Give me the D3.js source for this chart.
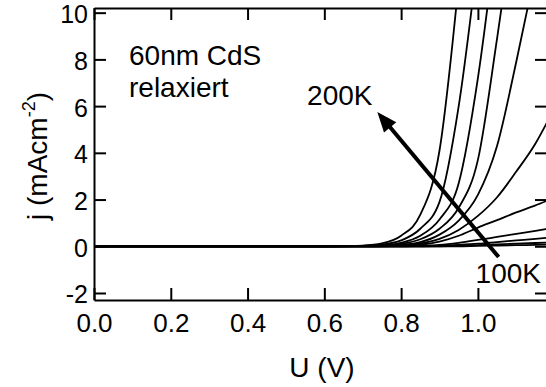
<!DOCTYPE html>
<html><head><meta charset="utf-8">
<script src="https://cdn.jsdelivr.net/npm/d3@7"></script>
<style>body{margin:0;background:#fff}svg{display:block}text{font-family:"Liberation Sans",Arial,sans-serif;fill:#000}</style>
</head><body>
<svg id="c" width="546" height="387"></svg>
<script>
// Voltage grid (V)
const voltages = [0, 0.5, 0.6, 0.65, 0.7, 0.75, 0.8, 0.85, 0.9, 0.95, 1.0, 1.05, 1.1, 1.15, 1.18];
// Current density j (mA/cm^2), one array per temperature
const j200K = [0, 0, 0.002, 0.01, 0.03, 0.12, 0.45, 1.35, 4.1, 11.3, null, null, null, null, null];
const j190K = [0, 0, 0.001, 0.005, 0.02, 0.07, 0.25, 0.75, 1.9, 6.0, 12.4, null, null, null, null];
const j180K = [0, 0, 0, 0.003, 0.015, 0.05, 0.15, 0.45, 1.15, 2.7, 7.2, 13.6, null, null, null];
const j170K = [0, 0, 0, 0.002, 0.01, 0.03, 0.1, 0.3, 0.75, 1.65, 3.7, 8.9, 14.6, null, null];
const j160K = [0, 0, 0, 0, 0.005, 0.02, 0.06, 0.18, 0.5, 1.1, 2.2, 4.3, 7.9, 11.8, null];
const j150K = [0, 0, 0, 0, 0, 0.01, 0.04, 0.12, 0.32, 0.7, 1.3, 2.1, 3.2, 4.4, 5.3];
const j140K = [0, 0, 0, 0, 0, 0, 0.02, 0.07, 0.2, 0.45, 0.8, 1.12, 1.45, 1.75, 1.95];
const j130K = [0, 0, 0, 0, 0, 0, 0, 0.02, 0.06, 0.15, 0.27, 0.4, 0.53, 0.66, 0.74];
const j120K = [0, 0, 0, 0, 0, 0, 0, 0, 0.02, 0.06, 0.11, 0.18, 0.25, 0.32, 0.36];
const j110K = [0, 0, 0, 0, 0, 0, 0, 0, 0, 0.03, 0.05, 0.08, 0.11, 0.14, 0.16];
const j100K = [0, 0, 0, 0, 0, 0, 0, 0, 0, 0, 0.02, 0.03, 0.045, 0.06, 0.07];
const series = [j200K, j190K, j180K, j170K, j160K, j150K, j140K, j130K, j120K, j110K, j100K];

const xTicks = [0, 0.2, 0.4, 0.6, 0.8, 1.0];
const xTickLabels = ["0.0", "0.2", "0.4", "0.6", "0.8", "1.0"];
const yTicks = [-2, 0, 2, 4, 6, 8, 10];
const yTickLabels = ["-2", "0", "2", "4", "6", "8", "10"];
const xDomain = [0, 1.18];
const yDomain = [-2.3, 10.2];

// annotation anchors in data units
const arrowTail = [1.054, -0.46];
const arrowHead = [0.738, 5.75];
const label200K = [0.555, 6.05];
const label100K = [0.994, -1.57];

const svg = d3.select("#c");
const L = 94, R = 547, T = 8, B = 300;
const x = d3.scaleLinear().domain(xDomain).range([L, R]);
const y = d3.scaleLinear().domain(yDomain).range([B, T]);
const FS = 28;

svg.append("defs").append("clipPath").attr("id", "clip")
  .append("rect").attr("x", L).attr("y", T).attr("width", R - L).attr("height", B - T);

const line = d3.line()
  .defined(d => d[1] != null)
  .x(d => x(d[0])).y(d => y(d[1]))
  .curve(d3.curveMonotoneX);

const g = svg.append("g").attr("clip-path", "url(#clip)");
series.forEach(s => {
  g.append("path")
    .attr("d", line(voltages.map((v, i) => [v, s[i]])))
    .attr("fill", "none").attr("stroke", "#000").attr("stroke-width", 1.8);
});

// axes (ticks inward)
const tl = 12;
const axB = d3.axisBottom(x).tickValues(xTicks).tickFormat((d, i) => xTickLabels[i]).tickSizeInner(-tl).tickSizeOuter(0).tickPadding(14);
const axT = d3.axisTop(x).tickValues(xTicks).tickFormat("").tickSizeInner(-tl).tickSizeOuter(0);
const axL = d3.axisLeft(y).tickValues(yTicks).tickFormat((d, i) => yTickLabels[i]).tickSizeInner(-tl).tickSizeOuter(0).tickPadding(6);
const axR = d3.axisRight(y).tickValues(yTicks).tickFormat("").tickSizeInner(-tl).tickSizeOuter(0);

function style(sel, fs) {
  sel.select(".domain").attr("stroke", "#000").attr("stroke-width", 2);
  sel.selectAll(".tick line").attr("stroke", "#000").attr("stroke-width", 2);
  sel.selectAll(".tick text").attr("font-size", fs).attr("font-family", '"Liberation Sans",Arial,sans-serif').attr("fill", "#000");
}
svg.append("g").attr("transform", `translate(0,${B})`).call(axB).call(style, 26);
svg.append("g").attr("transform", `translate(0,${T})`).call(axT).call(style, 26);
svg.append("g").attr("transform", `translate(${L},0)`).call(axL).call(style, 25)
  .selectAll(".tick text").attr("dy", "0.4em");
svg.append("g").attr("transform", `translate(${R},0)`).call(axR).call(style, 25);

// axis titles
svg.append("text").attr("x", 322).attr("y", 377).attr("text-anchor", "middle")
  .attr("font-size", FS).text("U (V)");
const yt = svg.append("text").attr("transform", "translate(47,156) rotate(-90)")
  .attr("text-anchor", "middle").attr("font-size", FS);
yt.append("tspan").text("j (mAcm");
yt.append("tspan").attr("font-size", 18).attr("dy", -12).text("-2");
yt.append("tspan").attr("dy", 12).text(")");

// annotations
svg.append("text").attr("x", 129).attr("y", 65).attr("font-size", FS).text("60nm CdS");
svg.append("text").attr("x", 129).attr("y", 97).attr("font-size", FS).text("relaxiert");
svg.append("text").attr("x", x(label200K[0])).attr("y", y(label200K[1])).attr("font-size", FS).text("200K");
svg.append("text").attr("x", x(label100K[0])).attr("y", y(label100K[1])).attr("font-size", FS).text("100K");

// arrow
const x1 = x(arrowTail[0]), y1 = y(arrowTail[1]), x2 = x(arrowHead[0]), y2 = y(arrowHead[1]);
const ang = Math.atan2(y2 - y1, x2 - x1);
const hl = 20, hw = 8;
const bx = x2 - hl * Math.cos(ang), by = y2 - hl * Math.sin(ang);
svg.append("line").attr("x1", x1).attr("y1", y1).attr("x2", bx + 3 * Math.cos(ang)).attr("y2", by + 3 * Math.sin(ang))
  .attr("stroke", "#000").attr("stroke-width", 4);
svg.append("path").attr("d", `M${x2},${y2}L${bx - hw * Math.sin(ang)},${by + hw * Math.cos(ang)}L${bx + hw * Math.sin(ang)},${by - hw * Math.cos(ang)}Z`)
  .attr("fill", "#000");
</script>
</body></html>
